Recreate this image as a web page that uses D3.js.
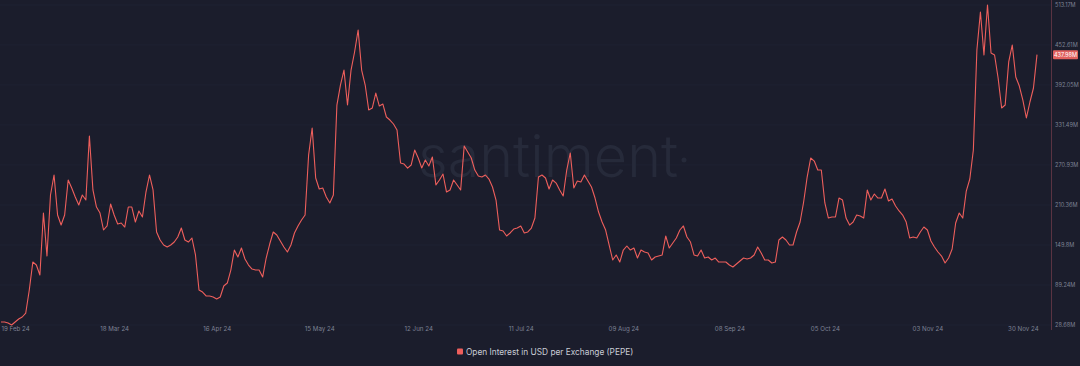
<!DOCTYPE html>
<html>
<head>
<meta charset="utf-8">
<script src="https://cdn.jsdelivr.net/npm/d3@7"></script>
<style>
  html, body { margin: 0; padding: 0; background: #1b1d2c; }
  svg { display: block; }
</style>
</head>
<body>
<svg id="chart" width="1080" height="366"></svg>
<script>
// ---- data (Open Interest in USD per Exchange, PEPE, millions USD, daily from 15 Feb 2024) ----
const startDate = "2024-02-15";
const openInterest = [
  33.2, 33.2, 31.7, 28.68, 33.2, 37.7, 40.8, 46.8, 81.7, 124.0,
  119.5, 104.4, 198.2, 133.1, 225.5, 255.8, 195.2, 180.0, 195.2, 248.2,
  236.1, 222.5, 210.4, 225.5, 217.9, 314.8, 233.1, 207.3, 198.2, 172.5,
  178.6, 211.9, 195.2, 181.6, 183.1, 177.0, 207.3, 207.3, 184.6, 201.3,
  192.2, 230.0, 255.8, 233.1, 169.5, 157.4, 149.8, 146.8, 149.8, 154.3,
  161.9, 175.5, 157.4, 154.3, 160.4, 134.7, 81.7, 78.6, 72.6, 72.6,
  71.1, 68.0, 71.1, 87.7, 92.2, 111.9, 142.2, 131.6, 145.2, 128.6,
  119.5, 113.4, 111.9, 111.9, 101.3, 130.1, 151.3, 169.5, 164.9, 155.8,
  146.8, 139.2, 149.8, 168.0, 178.6, 187.6, 195.2, 286.0, 326.9, 251.2,
  234.6, 236.1, 222.5, 213.4, 225.5, 361.7, 392.0, 414.7, 361.7, 414.7,
  442.0, 475.3, 414.7, 392.0, 354.2, 357.2, 379.9, 360.2, 363.2, 343.6,
  339.0, 333.0, 323.9, 273.9, 272.4, 266.3, 270.9, 293.6, 281.5, 266.3,
  278.5, 269.4, 283.0, 240.6, 248.2, 257.3, 230.0, 233.1, 248.2, 240.6,
  233.1, 299.7, 290.6, 281.5, 263.3, 254.2, 252.7, 255.8, 249.7, 237.6,
  217.9, 172.5, 171.0, 163.4, 168.0, 174.0, 175.5, 178.6, 168.0, 169.5,
  175.5, 190.6, 252.7, 255.8, 251.2, 234.6, 248.2, 243.6, 233.1, 224.0,
  263.3, 289.1, 236.1, 246.7, 245.2, 255.8, 246.7, 237.6, 220.9, 199.7,
  184.6, 172.5, 149.8, 127.1, 134.7, 124.0, 142.2, 148.3, 142.2, 145.2,
  130.1, 142.2, 139.2, 137.7, 127.1, 131.6, 133.1, 134.7, 163.4, 145.2,
  152.8, 160.4, 172.5, 178.6, 161.9, 154.3, 134.7, 133.1, 142.2, 130.1,
  131.6, 127.1, 130.1, 124.0, 124.0, 124.0, 119.5, 116.5, 121.0, 125.6,
  130.1, 128.6, 130.1, 134.7, 146.8, 137.7, 127.1, 127.1, 122.5, 124.0,
  157.4, 161.9, 157.4, 149.8, 149.8, 169.5, 184.6, 214.9, 252.7, 281.5,
  276.9, 263.3, 263.3, 213.4, 190.6, 192.2, 192.2, 220.9, 217.9, 190.6,
  180.0, 184.6, 195.2, 193.7, 190.6, 233.1, 217.9, 227.0, 220.9, 220.9,
  234.6, 216.4, 219.4, 208.8, 201.3, 195.2, 184.6, 160.4, 161.9, 160.4,
  169.5, 177.0, 172.5, 155.8, 146.8, 139.2, 133.1, 122.5, 130.1, 143.7,
  183.1, 198.2, 190.6, 231.5, 249.7, 293.6, 445.0, 502.6, 437.5, 513.17,
  440.5, 437.5, 402.6, 357.2, 361.7, 426.9, 452.6, 404.1, 390.5, 369.3,
  342.1, 366.3, 387.5, 437.98
];
const xTickDates = ["2024-02-19", "2024-03-18", "2024-04-16", "2024-05-15", "2024-06-12",
  "2024-07-11", "2024-08-09", "2024-09-08", "2024-10-05", "2024-11-03", "2024-11-30"];
const yTickValues = [28.68, 89.24, 149.8, 210.36, 270.93, 331.49, 392.05, 452.61, 513.17];
const yTickLabels = ["28.68M", "89.24M", "149.8M", "210.36M", "270.93M", "331.49M", "392.05M", "452.61M", "513.17M"];
const lastLabel = "437.98M";
const seriesName = "Open Interest in USD per Exchange (PEPE)";

// ---- build ----
const parse = d3.utcParse("%Y-%m-%d");
const t0 = parse(startDate);
const data = openInterest.map((v, i) => ({ date: d3.utcDay.offset(t0, i), value: v }));

const svg = d3.select("#chart");
const W = 1080, H = 366;
const lineColor = "#ee5f5c";
const font = "Inter, 'Open Sans', sans-serif";

svg.append("rect").attr("width", W).attr("height", H).attr("fill", "#1b1d2c");

const x = d3.scaleUtc()
  .domain([t0, data[data.length - 1].date])
  .range([1, 1037]);
const y = d3.scaleLinear()
  .domain([yTickValues[0], yTickValues[yTickValues.length - 1]])
  .range([325, 5]);

// faint gridlines
svg.append("g")
  .selectAll("line")
  .data(yTickValues)
  .join("line")
  .attr("x1", 0).attr("x2", 1051)
  .attr("y1", d => y(d)).attr("y2", d => y(d))
  .attr("stroke", "#1f2233").attr("stroke-width", 1);

// watermark
svg.append("text")
  .attr("x", 418).attr("y", 177)
  .attr("font-family", font)
  .attr("font-size", 57.5).attr("font-weight", 300)
  .attr("fill", "#262a3a")
  .text("santiment");
svg.append("circle")
  .attr("cx", 684).attr("cy", 160).attr("r", 2.5)
  .attr("fill", "#262a3a");

// line
const line = d3.line().x(d => x(d.date)).y(d => y(d.value)).curve(d3.curveLinear);
svg.append("path")
  .datum(data)
  .attr("d", line)
  .attr("fill", "none")
  .attr("stroke", lineColor)
  .attr("stroke-width", 1.1)
  .attr("stroke-linejoin", "round");

// right axis line
svg.append("line")
  .attr("x1", 1051.5).attr("x2", 1051.5)
  .attr("y1", 0).attr("y2", 330)
  .attr("stroke", "#5a3342").attr("stroke-width", 1);

// y axis labels
const yAxis = d3.axisRight(y)
  .tickValues(yTickValues)
  .tickFormat((d, i) => yTickLabels[i])
  .tickSize(0)
  .tickPadding(0);
const gy = svg.append("g").attr("transform", "translate(1055,0)").call(yAxis);
gy.select(".domain").remove();
gy.selectAll("text")
  .attr("font-family", font)
  .attr("font-size", 5.6)
  .attr("fill", "#7d8294");

// last value box
const lastY = y(data[data.length - 1].value);
svg.append("rect")
  .attr("x", 1053).attr("y", lastY - 4.5)
  .attr("width", 25).attr("height", 9)
  .attr("rx", 1)
  .attr("fill", "#e0615e");
svg.append("text")
  .attr("x", 1065.5).attr("y", lastY + 2)
  .attr("text-anchor", "middle")
  .attr("font-family", font)
  .attr("font-size", 5.6)
  .attr("fill", "#ffffff")
  .text(lastLabel);

// x axis labels
const xAxis = d3.axisBottom(x)
  .tickValues(xTickDates.map(parse))
  .tickFormat(d3.utcFormat("%d %b %y"))
  .tickSize(0)
  .tickPadding(0);
const gx = svg.append("g").attr("transform", "translate(0,327)").call(xAxis);
gx.select(".domain").remove();
gx.selectAll("text")
  .attr("font-family", font)
  .attr("font-size", 6.2)
  .attr("fill", "#7d8294");

// legend
const lg = svg.append("g").attr("transform", "translate(457,352)");
lg.append("rect").attr("x", 0).attr("y", -3.5).attr("width", 6).attr("height", 6).attr("rx", 1).attr("fill", lineColor);
lg.append("text")
  .attr("x", 9).attr("y", 2.8)
  .attr("font-family", font)
  .attr("font-size", 8.3)
  .attr("fill", "#c9ccd6")
  .text(seriesName);
</script>
</body>
</html>
